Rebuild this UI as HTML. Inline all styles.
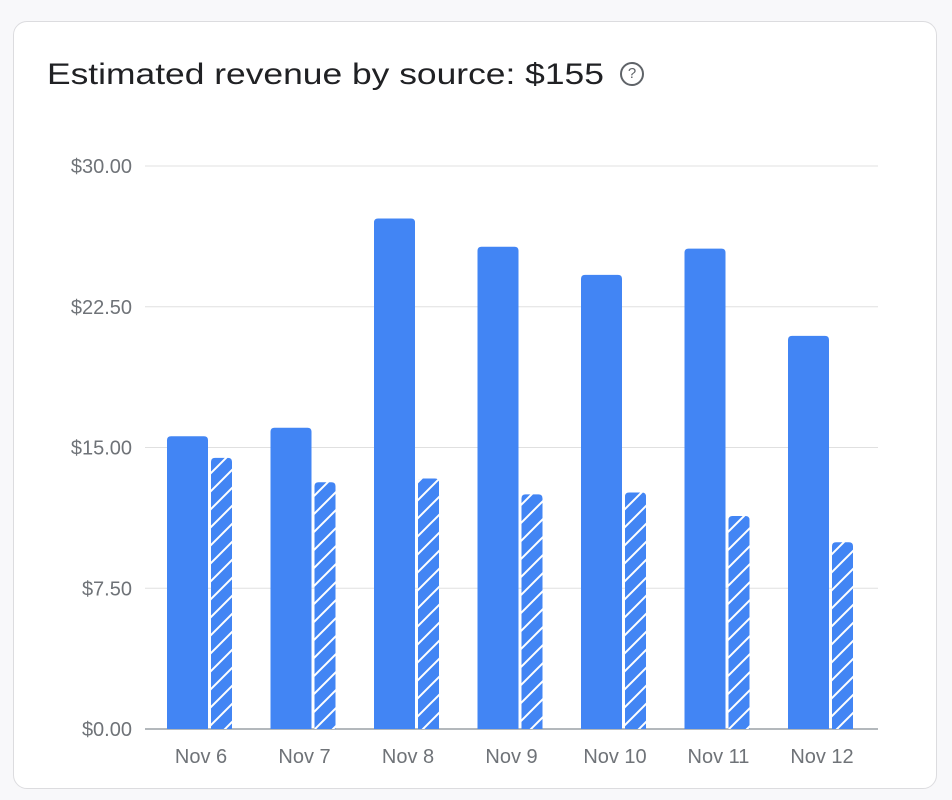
<!DOCTYPE html>
<html><head><meta charset="utf-8"><style>
body{margin:0;background:#f8f8fa;font-family:"Liberation Sans",sans-serif;}
#card{position:absolute;left:13px;top:21px;width:924px;height:768px;background:#fff;border:1.5px solid #dcdcdf;border-radius:14px;box-sizing:border-box;}
#title{position:absolute;left:47px;top:58px;font-size:30px;color:#202124;white-space:nowrap;transform:scaleX(1.18);transform-origin:left top;}
</style></head><body>
<div id="card"></div>
<div id="title">Estimated revenue by source: $155</div>
<div style="position:absolute;left:620px;top:62px;width:20px;height:20px;border:2px solid #5f6368;border-radius:50%;font-size:15px;line-height:20px;text-align:center;color:#5f6368;font-family:'Liberation Sans',sans-serif">?</div>
<svg id="chart" width="952" height="800" style="position:absolute;left:0;top:0">
<defs><pattern id="hatch" patternUnits="userSpaceOnUse" width="18" height="18">
<rect width="18" height="18" fill="#4285f4"/><path d="M-4,22 L22,-4 M-4,4 L4,-4 M14,22 L22,14" stroke="#fff" stroke-width="2"/></pattern></defs>
</svg>
<script>
const categories=["Nov 6","Nov 7","Nov 8","Nov 9","Nov 10","Nov 11","Nov 12"];
const solidValues=[15.6,16.05,27.2,25.7,24.2,25.6,20.95];
const hatchedValues=[14.45,13.15,13.35,12.5,12.6,11.35,9.95];
const yTicks=[0,7.5,15,22.5,30];
const yTickLabels=["$0.00","$7.50","$15.00","$22.50","$30.00"];
const svg=document.getElementById('chart');const NS="http://www.w3.org/2000/svg";
const y0=729,y1=166,yMax=30,x0=145,x1=878;
const y=v=>y0-(v/yMax)*(y0-y1);
const step=103.5,first=167;
const x=i=>first+i*step;
function mk(t,a){const e=document.createElementNS(NS,t);for(const k in a)e.setAttribute(k,a[k]);svg.appendChild(e);return e;}
yTicks.forEach((v,i)=>{
 const l=mk('line',{x1:x0,x2:x1,y1:y(v),y2:y(v),stroke:i==0?'#9aa0a6':'#e0e0e0','stroke-width':i==0?1.5:1});
 
 
 const t=mk('text',{x:132,y:y(v)+7,'text-anchor':'end','font-size':20,fill:'#6f7378','font-family':'Liberation Sans'});
 t.textContent=yTickLabels[i];
 
 
});
function bar(xl,w,v,fill){const top=y(v),r=4;
 return mk('path',{d:`M${xl},${y0} L${xl},${top+r} Q${xl},${top} ${xl+r},${top} L${xl+w-r},${top} Q${xl+w},${top} ${xl+w},${top+r} L${xl+w},${y0} Z`,fill:fill});}
categories.forEach((c,i)=>{
 const b=bar(x(i),41,solidValues[i],'#4285f4');
 
 
 const h=bar(x(i)+44,21,hatchedValues[i],'url(#hatch)');
 
 
 const t=mk('text',{x:x(i)+34,y:763,'text-anchor':'middle','font-size':20,fill:'#6f7378','font-family':'Liberation Sans'});
 t.textContent=c;
 
 
});
</script>
</body></html>
